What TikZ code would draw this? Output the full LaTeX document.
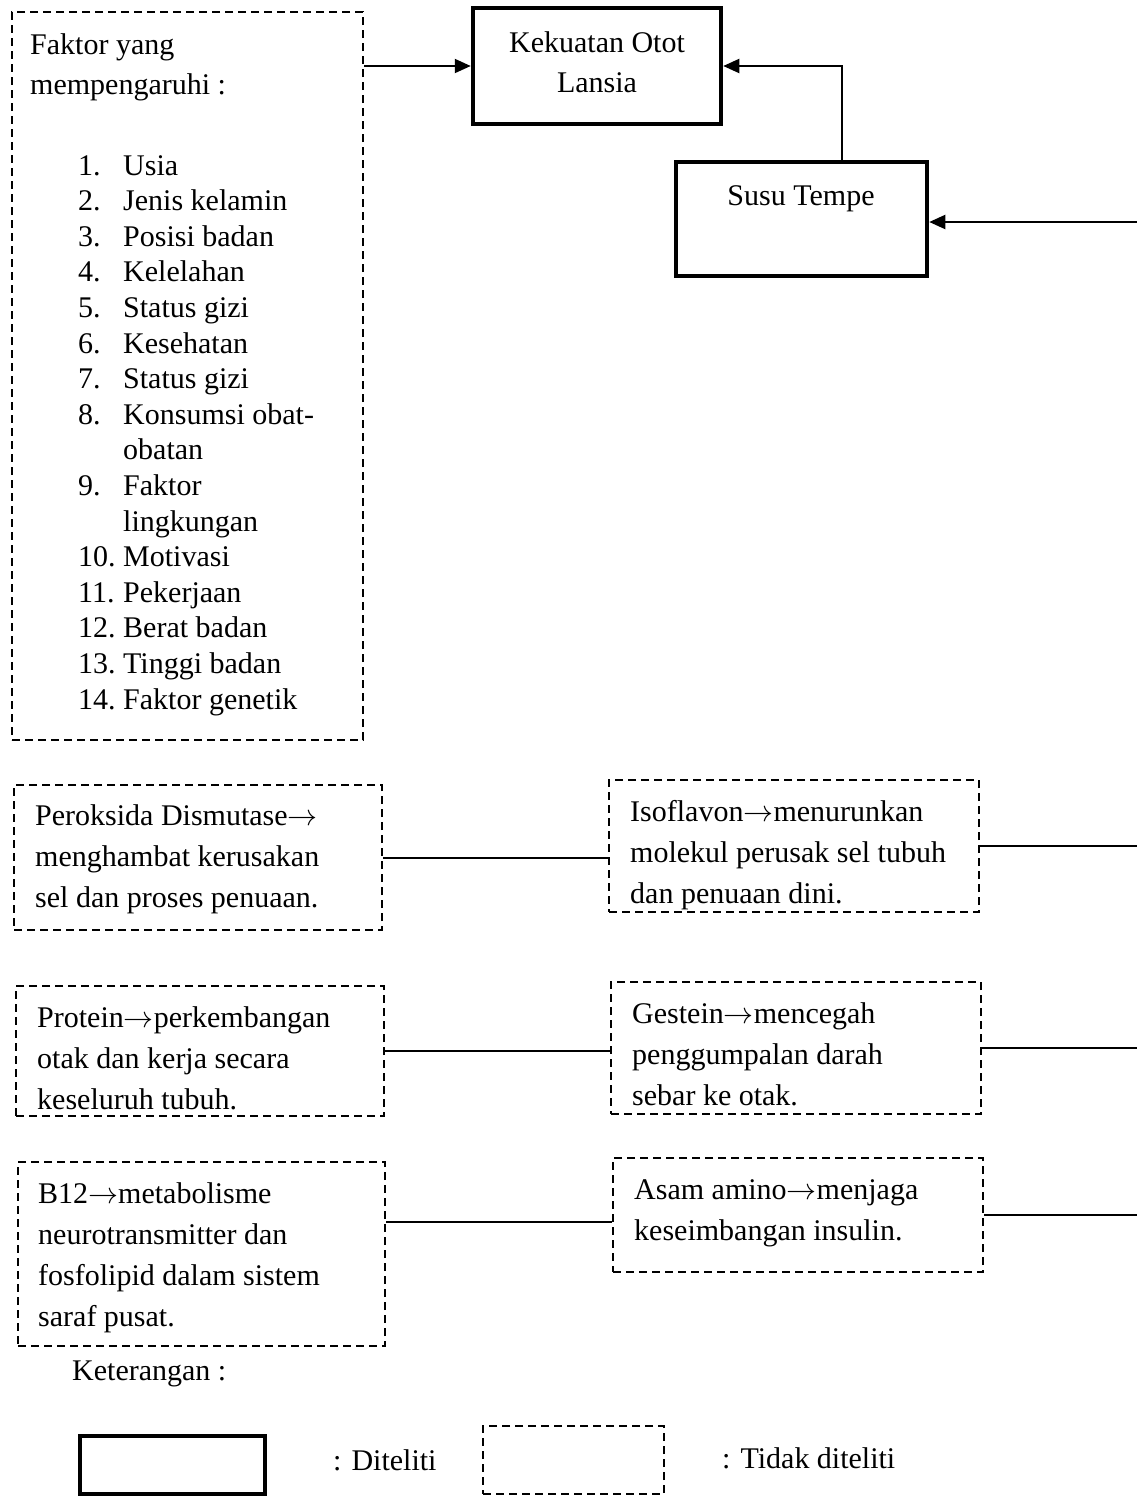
\RequirePackage{fix-cm}
\documentclass[tikz,border=0pt]{standalone}
\usepackage{fontspec}
\setmainfont{Liberation Serif}
\usetikzlibrary{arrows.meta}
\newcommand{\rarr}{$\rightarrow$}
\begin{document}
\begin{tikzpicture}[x=1pt,y=-1pt,
  solidbox/.style={draw, line width=4.5pt, inner sep=0pt},
  dashbox/.style={draw, line width=2pt, dash pattern=on 8pt off 5pt, inner sep=0pt},
  txt/.style={anchor=base west, inner sep=0pt, font=\fontsize{30}{41}\selectfont},
  ctxt/.style={anchor=base, inner sep=0pt, font=\fontsize{30}{40}\selectfont},
  listtxt/.style={anchor=base west, inner sep=0pt, font=\fontsize{30}{35.6}\selectfont},
  conn/.style={line width=2pt},
  arr/.style={conn, -{Triangle[length=16pt,width=14pt]}}]
\useasboundingbox (0,0) rectangle (1137,1497);

% boxes
\node[dashbox, minimum width=351pt, minimum height=728pt] (faktor) at (187.5,376) {};
\node[solidbox, minimum width=248pt, minimum height=116pt] (kek) at (597,66) {};
\node[solidbox, minimum width=251pt, minimum height=114pt] (susu) at (801.5,219) {};
\node[dashbox, minimum width=368pt, minimum height=145pt] (perok) at (198,857.5) {};
\node[dashbox, minimum width=370pt, minimum height=132pt] (iso) at (794,846) {};
\node[dashbox, minimum width=368pt, minimum height=130pt] (prot) at (200,1051) {};
\node[dashbox, minimum width=370pt, minimum height=132pt] (gest) at (796,1048) {};
\node[dashbox, minimum width=367pt, minimum height=184pt] (bdua) at (201.5,1254) {};
\node[dashbox, minimum width=370pt, minimum height=114pt] (asam) at (798,1215) {};
\node[solidbox, minimum width=185pt, minimum height=58pt] (legA) at (172.5,1465) {};
\node[dashbox, minimum width=181pt, minimum height=68pt] (legB) at (573.5,1460) {};

% texts
\node[txt, font=\fontsize{30}{40}\selectfont] (tfaktor) at (30,54) {\begin{tabular}[t]{@{}l@{}}Faktor yang\\ mempengaruhi :\end{tabular}};
\node[listtxt] (tlist) at (78,175) {\begin{tabular}[t]{@{}p{45pt}@{}l@{}}
1. & Usia\\
2. & Jenis kelamin\\
3. & Posisi badan\\
4. & Kelelahan\\
5. & Status gizi\\
6. & Kesehatan\\
7. & Status gizi\\
8. & Konsumsi obat-\\
   & obatan\\
9. & Faktor\\
   & lingkungan\\
10. & Motivasi\\
11. & Pekerjaan\\
12. & Berat badan\\
13. & Tinggi badan\\
14. & Faktor genetik
\end{tabular}};
\node[ctxt] (tkek) at (597,52) {\begin{tabular}[t]{@{}c@{}}Kekuatan Otot\\ Lansia\end{tabular}};
\node[ctxt] (tsusu) at (801,205) {Susu Tempe};
\node[txt] (tperok) at (35,825) {\begin{tabular}[t]{@{}l@{}}Peroksida Dismutase\rarr\\ menghambat kerusakan\\ sel dan proses penuaan.\end{tabular}};
\node[txt] (tiso) at (630,821) {\begin{tabular}[t]{@{}l@{}}Isoflavon\rarr menurunkan\\ molekul perusak sel tubuh\\ dan penuaan dini.\end{tabular}};
\node[txt] (tprot) at (37,1027) {\begin{tabular}[t]{@{}l@{}}Protein\rarr perkembangan\\ otak dan kerja secara\\ keseluruh tubuh.\end{tabular}};
\node[txt] (tgest) at (632,1023) {\begin{tabular}[t]{@{}l@{}}Gestein\rarr mencegah\\ penggumpalan darah\\ sebar ke otak.\end{tabular}};
\node[txt] (tbdua) at (38,1203) {\begin{tabular}[t]{@{}l@{}}B12\rarr metabolisme\\ neurotransmitter dan\\ fosfolipid dalam sistem\\ saraf pusat.\end{tabular}};
\node[txt] (tasam) at (634,1199) {\begin{tabular}[t]{@{}l@{}}Asam amino\rarr menjaga\\ keseimbangan insulin.\end{tabular}};
\node[txt] (tket) at (72,1380) {Keterangan :};
\node[txt] (tdit) at (333,1470) {: Diteliti};
\node[txt] (ttdk) at (722,1468) {: Tidak diteliti};

% connectors
\coordinate (sx) at (842,0);
\coordinate (e1) at (1137,222);
\coordinate (e2) at (1137,846);
\coordinate (e3) at (1137,1048);
\coordinate (e4) at (1137,1215);
\coordinate (c3) at (0,1222);
\draw[arr] (faktor.east |- kek.west) -- (kek.west);
\draw[arr] (susu.north -| sx) |- (kek.east);
\draw[arr] (e1) -- (susu.east |- e1);
\draw[conn] (perok.east) -- (perok.east -| iso.west);
\draw[conn] (iso.east) -- (e2);
\draw[conn] (prot.east) -- (prot.east -| gest.west);
\draw[conn] (gest.east) -- (e3);
\draw[conn] (bdua.east |- c3) -- (asam.west |- c3);
\draw[conn] (asam.east) -- (e4);
\end{tikzpicture}
\end{document}
